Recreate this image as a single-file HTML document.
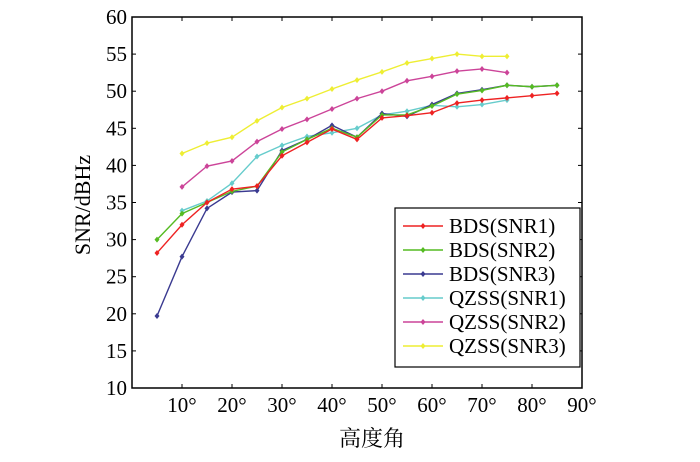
<!DOCTYPE html>
<html><head><meta charset="utf-8"><style>
body{margin:0;background:#fff;}
svg text{font-family:"Liberation Serif","Noto Serif CJK SC",serif;fill:#000;}
</style></head><body>
<svg id="s" width="700" height="457" xmlns="http://www.w3.org/2000/svg">
<rect x="0" y="0" width="700" height="457" fill="#fff"/>
<g id="g"></g>
<rect x="132" y="17" width="450" height="371" fill="none" stroke="#000" stroke-width="1.5"/>
<text x="90" y="205" font-size="22" text-anchor="middle" transform="rotate(-90 90 205)">SNR/dBHz</text>
<text x="372" y="446" font-size="22" text-anchor="middle">高度角</text>
<g id="leg">
<rect x="395" y="208" width="185" height="159" fill="#fff" stroke="#000" stroke-width="1.2"/>
</g>
</svg>
<script>
const X=d=>132+5*d, Y=v=>17+(60-v)*7.42;
const g=document.getElementById('g'), leg=document.getElementById('leg');
const NS='http://www.w3.org/2000/svg';
function el(p,t,a,txt){const e=document.createElementNS(NS,t);for(const k in a)e.setAttribute(k,a[k]);if(txt!==undefined)e.textContent=txt;p.appendChild(e);return e;}
for(let v=10;v<=60;v+=5){const y=Y(v);el(g,'text',{x:127,y:y+7,'font-size':21,'text-anchor':'end'},v);
 if(v>10&&v<60){el(g,'line',{x1:132,y1:y,x2:136,y2:y,stroke:'#000'});el(g,'line',{x1:582,y1:y,x2:578,y2:y,stroke:'#000'});}}
for(let d=10;d<=90;d+=10){const x=X(d);el(g,'text',{x:x,y:412,'font-size':21,'text-anchor':'middle'},d+'°');
 if(d<90){el(g,'line',{x1:x,y1:388,x2:x,y2:384,stroke:'#000'});el(g,'line',{x1:x,y1:17,x2:x,y2:21,stroke:'#000'});}}
const S=[
['BDS(SNR1)','#ee2222',5,[28.2,32,35,36.8,37.2,41.3,43.1,44.9,43.5,46.4,46.7,47.1,48.4,48.8,49.1,49.4,49.7]],
['BDS(SNR2)','#55bb22',5,[30,33.5,35,36.5,37.2,41.8,43.5,45,43.8,46.8,46.8,48,49.6,50.1,50.8,50.6,50.8]],
['BDS(SNR3)','#3a3a90',5,[19.7,27.7,34.2,36.4,36.6,42,43.5,45.4,43.8,47,46.6,48.2,49.7,50.2,50.8,50.6,50.8]],
['QZSS(SNR1)','#66cccc',10,[33.9,35.2,37.6,41.2,42.7,43.9,44.4,45,46.8,47.3,48.1,47.9,48.2,48.8]],
['QZSS(SNR2)','#cc4499',10,[37.1,39.9,40.6,43.2,44.9,46.2,47.6,49,50,51.4,52,52.7,53,52.5]],
['QZSS(SNR3)','#eeee33',10,[41.6,43,43.8,46,47.8,49,50.3,51.5,52.6,53.8,54.4,55,54.7,54.7]]];
S.slice().reverse().forEach(s=>{const pts=s[3].map((v,i)=>[X(s[2]+5*i),Y(v)]);
 el(g,'polyline',{points:pts.map(p=>p.join(',')).join(' '),fill:'none',stroke:s[1],'stroke-width':1.4});
 pts.forEach(p=>el(g,'path',{d:`M${p[0]} ${p[1]-3}L${p[0]+2.5} ${p[1]}L${p[0]} ${p[1]+3}L${p[0]-2.5} ${p[1]}Z`,fill:s[1]}));});
S.forEach((s,i)=>{const y=226+i*24;
 el(leg,'line',{x1:403,y1:y,x2:443,y2:y,stroke:s[1],'stroke-width':1.5});
 el(leg,'path',{d:`M423 ${y-3}L425.5 ${y}L423 ${y+3}L420.5 ${y}Z`,fill:s[1]});
 el(leg,'text',{x:449,y:y+7,'font-size':21},s[0]);});
</script>
</body></html>
